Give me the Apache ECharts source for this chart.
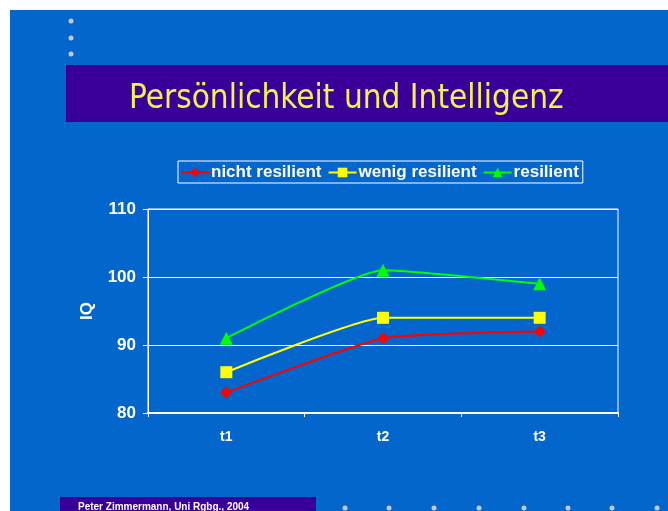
<!DOCTYPE html>
<html>
<head>
<meta charset="utf-8">
<script src="https://cdn.jsdelivr.net/npm/echarts@6/dist/echarts.min.js"></script>
<style>
  html, body { margin: 0; padding: 0; background: #fff; }
  #chart { width: 668px; height: 511px; }
</style>
</head>
<body>
<div id="chart"></div>
<script>
// Daten
const categories = ['t1', 't2', 't3'];
const nichtResilient = [83, 91, 92];
const wenigResilient = [86, 94, 94];
const resilient = [91, 101, 99];
const seriesNames = ['nicht resilient', 'wenig resilient', 'resilient'];

const chart = echarts.init(document.getElementById('chart'));
const font = '"Liberation Sans", Arial, sans-serif';

// Punkte als Dekoration
const dots = [];
[21, 38, 54].forEach(y => {
  dots.push({ type: 'circle', shape: { cx: 71, cy: y, r: 2.5 }, style: { fill: '#c8c8d8' } });
});
[345, 389, 434, 479, 524, 568, 612, 657].forEach(x => {
  dots.push({ type: 'circle', shape: { cx: x, cy: 508, r: 2.5 }, style: { fill: '#c8c8d8' } });
});

const lineSeries = (name, data, color, symbol, size) => ({
  name: name,
  type: 'line',
  data: data,
  smooth: 0.15,
  symbol: symbol,
  symbolSize: size,
  lineStyle: { color: color, width: 2 },
  itemStyle: { color: color },
  z: 3
});

chart.setOption({
  animation: false,
  backgroundColor: '#fff',
  graphic: [
    { type: 'rect', shape: { x: 10, y: 10, width: 658, height: 501 }, style: { fill: '#0266cc' }, z: -10 },
    { type: 'rect', shape: { x: 66, y: 65, width: 602, height: 57 }, style: { fill: '#380099' }, z: -9 },
    {
      type: 'text', left: 129, top: 83,
      style: { text: 'Persönlichkeit und Intelligenz', fill: '#f4f04c', font: '33px "DejaVu Sans Condensed", "DejaVu Sans", sans-serif' }
    },
    { type: 'rect', shape: { x: 60, y: 497, width: 256, height: 14 }, style: { fill: '#380099' }, z: -9 },
    {
      type: 'text', left: 78, top: 502,
      style: { text: 'Peter Zimmermann, Uni Rgbg., 2004', fill: '#fff', font: 'bold 10px ' + font }
    },
    ...dots
  ],
  legend: {
    data: seriesNames,
    left: 178,
    top: 161,
    padding: [3, 4, 2, 2],
    itemGap: 6,
    itemWidth: 28,
    itemHeight: 12,
    borderColor: '#fff',
    borderWidth: 1,
    textStyle: { color: '#fff', fontWeight: 'bold', fontSize: 17, fontFamily: font, padding: [0, 0, 0, -3] }
  },
  grid: {
    left: 148, top: 209, width: 470, height: 204,
    show: true, borderColor: '#fff', borderWidth: 1, backgroundColor: 'transparent'
  },
  xAxis: {
    type: 'category',
    data: categories,
    boundaryGap: true,
    axisLine: { lineStyle: { color: '#fff', width: 2 } },
    axisTick: { show: true, length: 4, lineStyle: { color: '#fff' } },
    axisLabel: { color: '#fff', fontWeight: 'bold', fontSize: 14, margin: 17, fontFamily: font }
  },
  yAxis: {
    type: 'value',
    min: 80, max: 110, interval: 10,
    name: 'IQ',
    nameLocation: 'middle',
    nameGap: 52,
    nameRotate: 90,
    nameTextStyle: { color: '#fff', fontWeight: 'bold', fontSize: 17, fontFamily: font },
    axisLine: { show: true, lineStyle: { color: '#fff' } },
    axisTick: { show: true, length: 5, lineStyle: { color: '#fff' } },
    splitLine: { lineStyle: { color: '#fff', width: 1 } },
    axisLabel: { color: '#fff', fontWeight: 'bold', fontSize: 17, margin: 12, fontFamily: font }
  },
  series: [
    lineSeries(seriesNames[0], nichtResilient, '#ff0000', 'diamond', 12),
    lineSeries(seriesNames[1], wenigResilient, '#ffff00', 'rect', 12),
    lineSeries(seriesNames[2], resilient, '#00ff00', 'triangle', 13)
  ]
});
</script>
</body>
</html>
